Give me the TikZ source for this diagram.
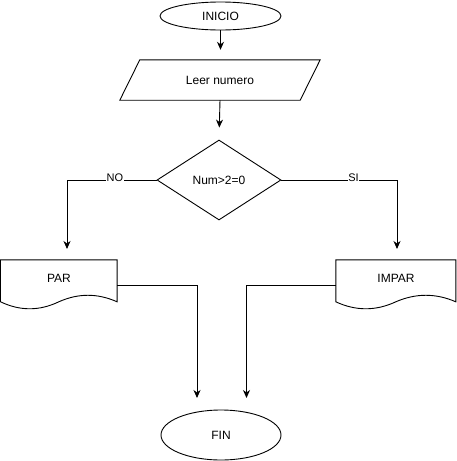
\documentclass[tikz,border=0pt]{standalone}
\usepackage{fontspec}
\setmainfont{Liberation Sans}
\usetikzlibrary{shapes.geometric,arrows.meta,calc}
\tikzset{
  every node/.style={font=\fontsize{12}{14}\selectfont, inner sep=0pt},
  lin/.style={draw=black, line width=0.9pt},
  arr/.style={lin, -{Stealth[length=8pt,width=7pt,inset=2.5pt]}},
  term/.style={ellipse, lin},
  plain/.style={rectangle, draw=none},
  decis/.style={diamond, lin, minimum width=124pt, minimum height=80pt},
  elabel/.style={fill=white, font=\fontsize{11}{13}\selectfont, inner sep=0.5pt},
}
\newcommand\mydocshape[2]{%
  \draw[lin, shift={(#1.north west)}] (0,0) -- (#2,0) -- (#2,42)
    .. controls (0.833*#2,33.3) and (0.667*#2,33.3) .. (0.5*#2,42)
    .. controls (0.333*#2,51.3) and (0.167*#2,51.3) .. (0,42) -- cycle;}
\begin{document}
\begin{tikzpicture}[x=1pt,y=-1pt]
\useasboundingbox (0,0) rectangle (457,461);
% nodes
\node[term, minimum width=121pt, minimum height=28pt] (ini) at (220.5,16) {INICIO};
\node[plain, minimum width=180pt, minimum height=40pt] (read) at (220,80) {Leer numero};
\draw[lin] ($(read.south west)+(-10,0)$) -- ($(read.north west)+(10,0)$)
  -- ($(read.north east)+(10,0)$) -- ($(read.south east)+(-10,0)$) -- cycle;
\node[decis] (dec) at (219,180) {Num>2=0};
\node[plain, minimum width=116.5pt, minimum height=50pt,
      label={[yshift=7pt]center:PAR}] (par) at (59,285) {};
\mydocshape{par}{116.5}
\node[plain, minimum width=120pt, minimum height=50pt,
      label={[yshift=7pt]center:IMPAR}] (imp) at (396,285) {};
\mydocshape{imp}{120}
\node[term, minimum width=120pt, minimum height=50pt] (fin) at (221,435) {FIN};
% free ends
\coordinate (na) at (67,249);
\coordinate (sa) at (397,249);
\coordinate (f1) at (197,398);
\coordinate (f2) at (246.5,398);
% connectors
\draw[arr, shorten >=10pt] (ini) -- (ini |- read.north);
\draw[arr, shorten >=12pt] (read.south) -- (dec.north);
\draw[arr] (dec.west) -| node[elabel, pos=0.233, yshift=2pt] {NO} (na);
\draw[arr] (dec.east) -| node[elabel, pos=0.312, yshift=2pt] {SI} (sa);
\draw[arr] (par.east) -| (f1);
\draw[arr] (imp.west) -| (f2);
\end{tikzpicture}
\end{document}
